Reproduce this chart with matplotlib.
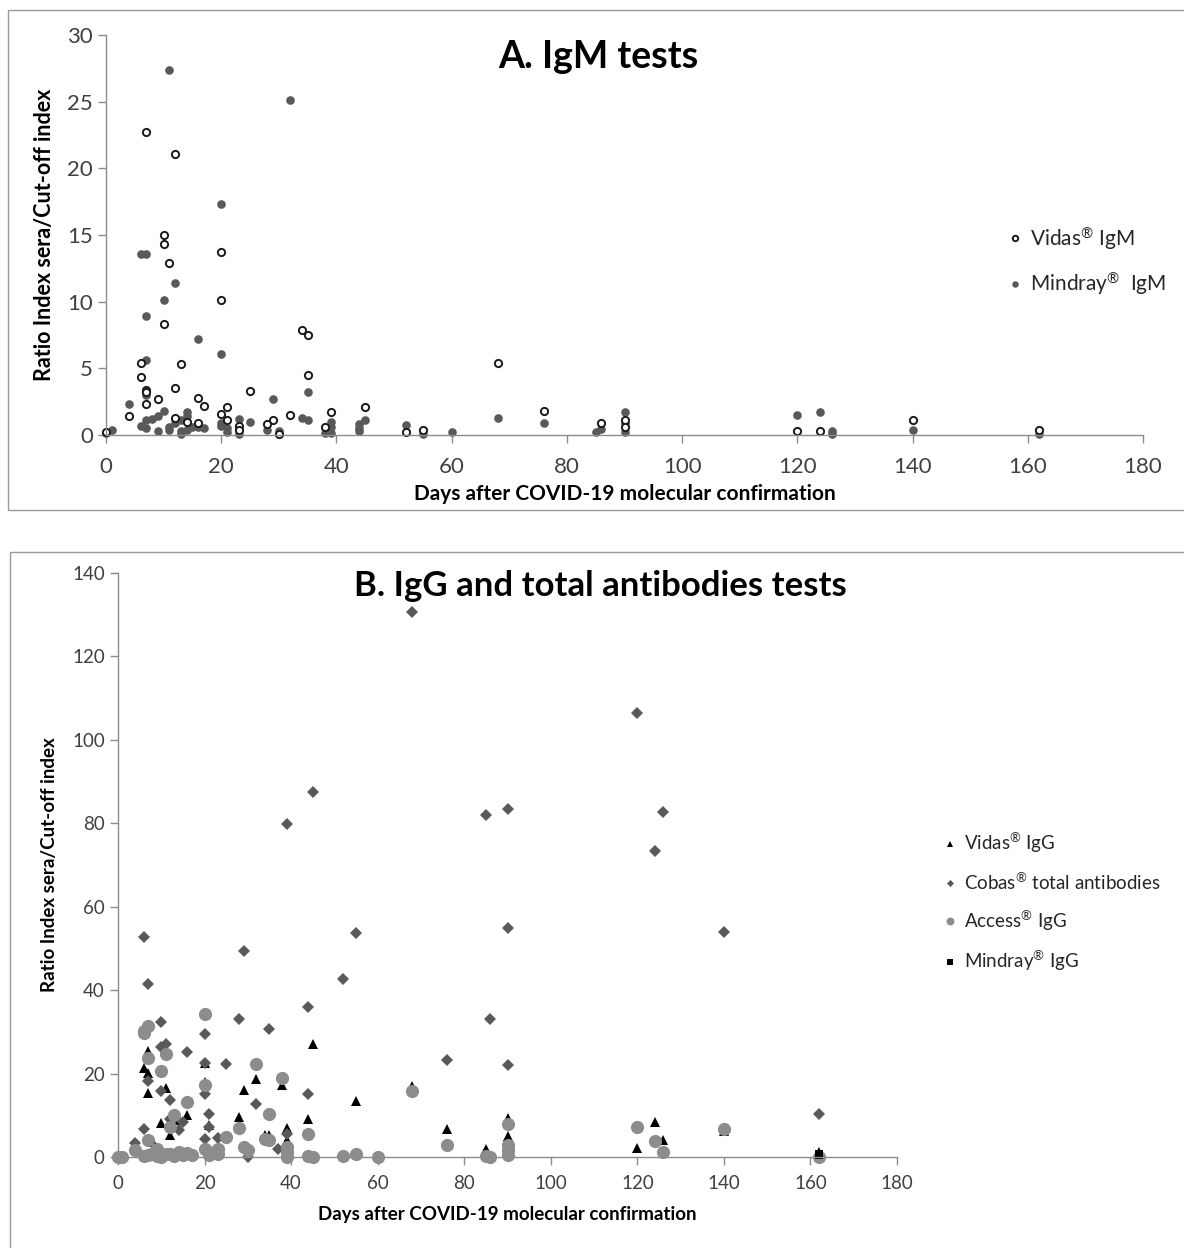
import numpy as np
import matplotlib
matplotlib.use("Agg")
import matplotlib.pyplot as plt
from matplotlib.patches import Rectangle

plt.rcParams['font.family'] = ['Lato', 'DejaVu Sans']
plt.rcParams['mathtext.fontset'] = 'custom'
plt.rcParams['mathtext.rm'] = 'Lato'
plt.rcParams['mathtext.default'] = 'regular'

# ---- panel A : IgM tests ----
vidas_igm_x = [7, 12, 10, 10, 11, 20, 20, 10, 34, 35, 13, 6, 6, 35, 7, 7, 12, 25, 9, 16,
               17, 7, 4, 21, 20, 21, 32, 29, 28, 23, 23, 30, 39, 38, 45, 16, 14, 12,
               52, 55, 68, 76, 86, 90, 90, 120, 124, 140, 162, 0]
vidas_igm_y = [22.7, 21.1, 15.0, 14.3, 12.9, 13.7, 10.1, 8.3, 7.9, 7.5, 5.3, 5.4, 4.35, 4.5, 3.4, 3.2, 3.5, 3.3, 2.7, 2.8,
               2.2, 2.3, 1.45, 2.1, 1.55, 1.1, 1.5, 1.1, 0.8, 0.7, 0.4, 0.1, 1.75, 0.6, 2.1, 0.9, 1.0, 1.3,
               0.2, 0.4, 5.4, 1.8, 0.9, 1.1, 0.6, 0.3, 0.3, 1.1, 0.4, 0.2]

mindray_igm_x = [11, 32, 20, 6, 7, 12, 10, 7, 16, 20, 7, 7, 4, 29, 35, 34, 35, 10, 9, 8,
                 7, 6, 7, 9, 11, 11, 12, 12, 13, 14, 14, 13, 13, 14, 15, 16, 17, 20, 20, 21,
                 21, 23, 23, 25, 28, 30, 39, 39, 39, 38, 44, 44, 44, 45, 0, 1,
                 52, 55, 60, 68, 76, 85, 86, 90, 90, 90, 120, 124, 126, 126, 140, 162]
mindray_igm_y = [27.4, 25.1, 17.3, 13.6, 13.6, 11.4, 10.1, 8.9, 7.2, 6.1, 5.6, 3.0, 2.3, 2.7, 3.2, 1.3, 1.1, 1.8, 1.4, 1.2,
                 1.1, 0.7, 0.5, 0.3, 0.6, 0.35, 1.2, 0.9, 1.1, 1.7, 1.4, 0.3, 0.1, 0.4, 0.6, 0.6, 0.55, 0.9, 0.65, 0.5,
                 0.2, 1.2, 0.05, 1.0, 0.4, 0.3, 1.0, 0.6, 0.15, 0.15, 0.8, 0.5, 0.3, 1.1, 0.15, 0.35,
                 0.75, 0.05, 0.2, 1.3, 0.9, 0.25, 0.45, 1.7, 0.9, 0.25, 1.5, 1.7, 0.3, 0.1, 0.4, 0.1]

# ---- panel B : IgG and total antibodies ----
vidas_igg_x = [7, 6, 7, 7, 11, 20, 20, 29, 32, 38, 45, 55, 10, 16, 12, 28, 44, 34, 35, 39,
               39, 14, 21, 8, 68, 76, 85, 90, 90, 120, 124, 126, 140, 162]
vidas_igg_y = [25.4, 21.4, 20.2, 15.4, 16.6, 22.6, 18.0, 16.0, 18.6, 17.2, 27.0, 13.4, 8.2, 10.0, 5.2, 9.6, 9.2, 5.2, 5.2, 7.0,
               4.0, 8.8, 7.6, 3.5, 17.0, 6.8, 1.9, 9.3, 5.0, 2.2, 8.5, 4.0, 6.3, 1.2]

cobas_x = [68, 120, 126, 124, 90, 85, 45, 39, 55, 90, 140, 6, 29, 52, 7, 44, 86, 28, 35, 10,
           20, 10, 11, 16, 20, 25, 76, 90, 7, 20, 44, 10, 12, 32, 21, 162, 21, 6, 14, 4,
           23, 20, 39, 30, 45, 37, 15, 12]
cobas_y = [130.6, 106.5, 82.7, 73.4, 83.4, 81.9, 87.6, 79.8, 53.6, 55.0, 53.9, 52.7, 49.3, 42.6, 41.4, 36.0, 33.0, 33.0, 30.8, 32.3,
           29.4, 26.4, 27.0, 25.1, 22.6, 22.2, 23.3, 22.0, 18.2, 15.2, 15.2, 15.8, 13.6, 12.8, 10.4, 10.3, 7.2, 6.8, 6.4, 3.4,
           4.6, 4.4, 5.6, 0.0, 0.0, 2.0, 8.4, 9.2]

access_x = [20, 7, 6, 6, 11, 7, 10, 32, 38, 20, 16, 35, 13, 28, 12, 25, 44, 34, 35, 29,
            30, 39, 39, 39, 44, 45, 52, 55, 60, 0, 1, 4, 7, 9, 6, 7, 8, 9, 10, 11,
            12, 13, 14, 15, 16, 17, 20, 21, 21, 23, 23, 68, 76, 85, 86, 90, 90, 90, 90, 120,
            124, 126, 140, 162]
access_y = [34.2, 31.4, 30.2, 29.8, 24.6, 23.7, 20.6, 22.2, 19.0, 17.2, 13.2, 10.2, 10.0, 7.0, 7.2, 4.8, 5.4, 4.2, 4.0, 2.4,
            1.6, 2.4, 1.2, 0.0, 0.2, 0.0, 0.2, 0.6, 0.0, 0.0, 0.0, 1.6, 4.0, 2.0, 0.2, 0.5, 1.0, 0.3, 0.1, 0.6,
            0.8, 0.3, 1.1, 0.4, 0.9, 0.5, 2.0, 1.2, 0.4, 1.8, 0.6, 15.8, 2.9, 0.2, 0.0, 7.9, 2.9, 1.7, 0.4, 7.3,
            3.9, 1.1, 6.7, 0.0]

mindray_igg_x = [162, 162]
mindray_igg_y = [0.8, 0.4]

W, H = 1184, 1248
fig = plt.figure(figsize=(W / 100, H / 100), dpi=100)

# chart borders (excel chart areas)
fig.patches.append(Rectangle((8 / W, 1 - 510 / H), 1.0, (510 - 10) / H, transform=fig.transFigure,
                             fill=False, ec='#9a9a9a', lw=1.0))
fig.patches.append(Rectangle((10 / W, -0.1), 1.0, 0.1 + (H - 552) / H, transform=fig.transFigure,
                             fill=False, ec='#9a9a9a', lw=1.0))

tick_col = '#404040'
spine_col = '#8c8c8c'


def style_axes(ax, fs, xpad):
    for s in ['top', 'right']:
        ax.spines[s].set_visible(False)
    for s in ['left', 'bottom']:
        ax.spines[s].set_color(spine_col)
        ax.spines[s].set_linewidth(1.0)
    ax.tick_params(axis='both', colors=spine_col, labelcolor=tick_col, labelsize=fs,
                   direction='out', length=6, width=1.0)
    ax.tick_params(axis='x', pad=xpad)


# panel A
axA = fig.add_axes([106 / W, 1 - 435 / H, 1037 / W, 400 / H])
axA.plot(mindray_igm_x, mindray_igm_y, 'o', color='#595959', ms=6.2, mew=0, clip_on=False,
         label=r'Mindray$^{®}$  IgM')
axA.plot(vidas_igm_x, vidas_igm_y, 'o', mfc='white', mec='#1a1a1a', ms=5.2, mew=1.4, clip_on=False,
         label=r'Vidas$^{®}$ IgM')
axA.set_xlim(0, 180)
axA.set_ylim(0, 30)
axA.set_xticks(np.arange(0, 181, 20))
axA.set_yticks(np.arange(0, 31, 5))
style_axes(axA, 16, 10)
axA.set_xlabel('Days after COVID-19 molecular confirmation', fontsize=15, fontweight='bold', labelpad=5)
axA.set_ylabel('Ratio Index sera/Cut-off index', fontsize=15.5, fontweight='bold', labelpad=9)
fig.text(598 / W, 1 - 57 / H, 'A. IgM tests', ha='center', va='center', fontsize=27, fontweight='bold')
hA, lA = axA.get_legend_handles_labels()
fig.legend(hA[::-1], lA[::-1], loc='center left', bbox_to_anchor=(988 / W, 1 - 261 / H),
           frameon=False, fontsize=15, markerscale=0.75, handlelength=0.8, handletextpad=0.3,
           labelspacing=0.9, labelcolor='#262626')

# panel B
axB = fig.add_axes([118 / W, 1 - 1157 / H, 779 / W, 584 / H])
axB.plot(vidas_igg_x, vidas_igg_y, '^', color='black', ms=6.5, mew=0, clip_on=False,
         label=r'Vidas$^{®}$ IgG')
axB.plot(cobas_x, cobas_y, 'D', color='#595959', ms=6.0, mew=0, clip_on=False,
         label=r'Cobas$^{®}$ total antibodies')
axB.plot(access_x, access_y, 'o', color='#8c8c8c', ms=9.5, mew=0, clip_on=False,
         label=r'Access$^{®}$ IgG')
axB.plot(mindray_igg_x, mindray_igg_y, 's', color='black', ms=6.3, mew=0, clip_on=False,
         label=r'Mindray$^{®}$ IgG')
axB.set_xlim(0, 180)
axB.set_ylim(0, 140)
axB.set_xticks(np.arange(0, 181, 20))
axB.set_yticks(np.arange(0, 141, 20))
style_axes(axB, 13.5, 7)
axB.set_xlabel('Days after COVID-19 molecular confirmation', fontsize=13.5, fontweight='bold', labelpad=10)
axB.set_ylabel('Ratio Index sera/Cut-off index', fontsize=13.5, fontweight='bold', labelpad=10)
fig.text(600 / W, 1 - 586 / H, 'B. IgG and total antibodies tests', ha='center', va='center',
         fontsize=25, fontweight='bold')
hB, lB = axB.get_legend_handles_labels()
fig.legend(hB, lB, loc='center left', bbox_to_anchor=(926 / W, 1 - 902 / H),
           frameon=False, fontsize=13.5, markerscale=0.6, handlelength=0.8, handletextpad=0.3,
           labelspacing=0.85, labelcolor='#262626')

fig.savefig('out.png', dpi=100)
